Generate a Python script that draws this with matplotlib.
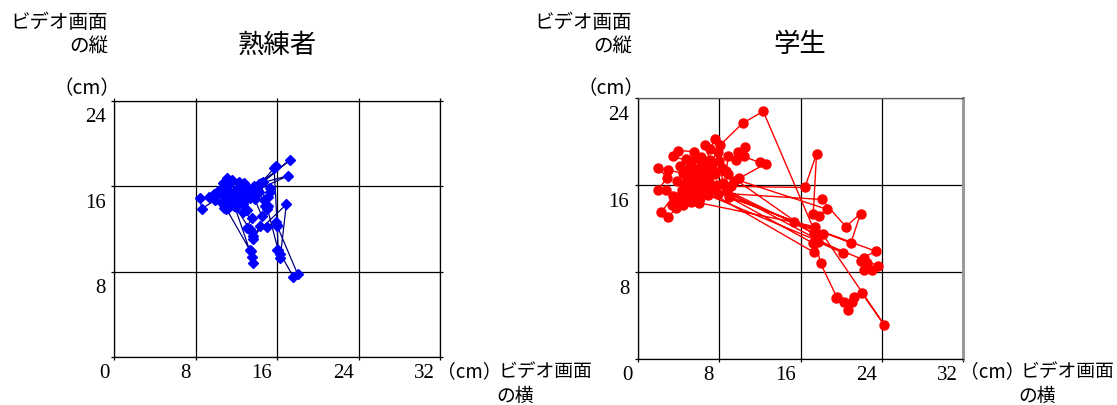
import matplotlib
matplotlib.use("Agg")
import matplotlib.pyplot as plt
from matplotlib.transforms import ScaledTranslation

# Gaze path of the expert (screen position in cm)
expert_x = [10.9, 10.2, 9.3, 8.4, 8.6, 9.9, 10.5, 11.0, 10.7, 11.2, 11.4, 11.9, 12.3, 12.7,
            12.4, 11.8, 11.3, 10.8, 10.9, 11.5, 12.0, 12.6, 13.0, 12.6, 13.5, 13.0, 13.5, 13.6,
            14.3, 15.0, 15.9, 16.0, 18.0, 17.6, 16.3, 16.0, 16.3, 16.9, 13.6, 13.3, 11.8, 13.3,
            13.5, 13.6, 13.4, 11.0, 11.8, 12.5, 13.2, 13.7, 14.2, 17.3, 14.0, 15.9, 15.7, 16.0,
            16.1, 14.4, 17.1, 13.9, 14.7, 15.3, 15.1, 15.3, 14.8, 15.1, 15.0, 14.5, 13.8, 13.3,
            12.9, 12.2, 11.6, 11.1, 10.4, 9.8, 10.6, 11.2, 12.0, 12.8, 13.3, 12.9, 13.6, 14.1,
            14.6, 14.2]
expert_y = [15.2, 15.6, 15.0, 14.9, 13.9, 14.7, 15.3, 15.9, 16.3, 15.7, 16.3, 15.6, 16.4, 16.3,
            15.4, 15.0, 14.4, 14.0, 14.6, 15.1, 14.8, 14.3, 13.8, 13.6, 13.0, 12.1, 11.7, 11.1,
            12.3, 12.2, 12.7, 12.3, 7.8, 7.5, 9.7, 10.0, 9.3, 14.3, 11.3, 12.0, 14.2, 10.0,
            9.4, 8.8, 9.9, 13.9, 14.6, 15.3, 15.7, 16.0, 16.2, 18.5, 15.9, 17.9, 17.7, 12.4,
            10.0, 16.3, 17.0, 15.6, 14.7, 15.5, 15.0, 15.8, 14.2, 14.2, 13.9, 13.2, 14.8, 15.3,
            16.0, 15.8, 16.6, 16.8, 15.7, 15.3, 14.4, 14.0, 14.1, 14.7, 14.9, 15.2, 15.5, 16.0,
            16.4, 15.5]

# Gaze path of the student (screen position in cm)
student_x = [5.5, 4.5, 3.0, 2.0, 2.9, 2.0, 2.8, 3.5, 2.3, 3.0, 3.8, 4.5, 4.2, 5.1, 6.0,
             15.35, 17.4, 17.2, 6.45, 5.8, 5.1, 3.5, 4.0, 5.5, 6.1, 7.1, 6.6, 7.1, 7.6, 7.9,
             7.6, 8.25, 8.7, 8.9, 9.7, 9.9, 10.5, 10.4, 12.0, 12.6, 10.0, 9.2, 16.43, 17.58,
             17.25, 17.84, 18.6, 6.5, 5.6, 4.8, 5.3, 6.2, 6.9, 6.0, 18.07, 20.46, 21.9, 20.95,
             5.2, 4.4, 3.9, 4.9, 5.7, 6.6, 7.3, 8.0, 8.4, 9.0, 23.4, 22.2, 21.9, 22.55, 22.2,
             22.98, 23.6, 6.9, 6.1, 5.4, 4.9, 5.6, 6.3, 7.0, 20.13, 17.7, 17.3, 5.9, 5.0, 4.2,
             4.7, 5.9, 6.8, 7.8, 17.3, 17.97, 19.54, 19.5, 20.26, 20.7, 21.1, 21.3, 22.0, 24.2,
             18.17, 7.4, 6.7, 5.8, 4.8, 3.4, 4.0, 4.6, 5.4, 6.2, 7.2, 8.1, 10.3, 12.34, 17.6,
             8.9, 9.5, 8.8, 7.9, 6.6, 5.9, 5.2]
student_y = [17.2, 17.1, 17.4, 17.6, 16.7, 15.6, 15.6, 15.0, 13.5, 13.1, 13.9, 14.2, 15.0, 15.6,
             14.4, 12.6, 12.2, 10.7, 16.2, 16.8, 18.2, 18.65, 19.2, 19.1, 17.7, 18.3, 19.7, 19.3,
             20.3, 19.1, 17.0, 17.6, 17.3, 18.7, 18.3, 19.1, 19.5, 18.65, 18.1, 18.0, 16.65, 15.9,
             15.8, 18.9, 13.4, 13.2, 13.8, 17.5, 16.1, 16.6, 17.6, 18.6, 17.0, 15.4, 14.7, 12.2,
             13.4, 10.7, 16.3, 15.6, 16.4, 17.5, 18.5, 18.1, 17.5, 18.2, 16.2, 14.9, 9.94, 9.36,
             9.0, 8.83, 8.2, 8.2, 8.6, 15.1, 14.8, 14.6, 15.2, 15.8, 16.5, 16.3, 9.8, 10.8, 9.85,
             16.0, 16.9, 17.8, 18.4, 17.3, 16.7, 16.0, 11.6, 8.83, 5.77, 5.6, 5.25, 4.5, 5.3,
             5.77, 6.13, 3.2, 11.5, 15.8, 15.5, 14.9, 14.6, 14.2, 14.8, 16.1, 16.6, 17.1, 17.9,
             19.7, 21.7, 22.8, 11.3, 17.0, 16.4, 15.6, 15.2, 15.9, 15.0, 14.5]

x_ticks = [0, 8, 16, 24, 32]
x_tick_labels = ["0", "8", "16", "24", "32"]
y_ticks = [0, 8, 16, 24]
y_tick_labels = ["", "8", "16", "24"]

titles = ["熟練者", "学生"]
y_name = ["ビデオ画面", "の縦"]
x_name = ["ビデオ画面", "の横"]
unit = "（cm）"

W, H = 1117, 405
fig = plt.figure(figsize=(W / 100, H / 100), dpi=100)

JP = ["Noto Sans CJK JP", "DejaVu Sans"]
NUM = ["Liberation Serif", "DejaVu Serif"]


def fx(px):
    return px / W


def fy(py):
    return 1 - py / H


ax1 = fig.add_axes([fx(114.3), fy(357), 325.7 / W, 256 / H])
ax2 = fig.add_axes([fx(637.7), fy(359.3), 325.6 / W, 261 / H])


def style(ax, outer_ticks):
    ax.set_xlim(0, 32)
    ax.set_ylim(0, 24)
    ax.set_xticks(x_ticks)
    ax.set_yticks(y_ticks)
    ax.set_xticklabels(x_tick_labels, fontfamily=NUM, fontsize=15)
    ax.set_yticklabels(y_tick_labels, fontfamily=NUM, fontsize=15)
    ax.grid(True, color="black", lw=0.9)
    ax.set_axisbelow(True)
    for s in ax.spines.values():
        s.set_color("black")
        s.set_linewidth(0.9)
    ax.tick_params(direction="out", length=2, width=0.9, color="black",
                   top=outer_ticks, right=outer_ticks, pad=3)
    ax.tick_params(axis="y", pad=4)
    # labels sit just left/below each grid crossing
    dx = ScaledTranslation(-0.05, 0, fig.dpi_scale_trans)
    for lab in ax.get_xticklabels():
        lab.set_horizontalalignment("right")
        lab.set_transform(lab.get_transform() + dx)
    dy = ScaledTranslation(0, -0.145, fig.dpi_scale_trans)
    for lab in ax.get_yticklabels():
        lab.set_transform(lab.get_transform() + dy)


style(ax1, True)
style(ax2, False)
ax2.spines["right"].set_color("#9a9a9a")
ax2.spines["right"].set_linewidth(2.2)
ax2.spines["top"].set_color("#555555")

ax1.plot(expert_x, expert_y, color="#000080", lw=0.9, zorder=3)
ax1.plot(expert_x, expert_y, ls="none", marker="D", ms=5.5, color="#0000ff",
         mec="#0000ff", zorder=4)

ax2.plot(student_x, student_y, color="#ff0000", lw=1.0, marker="o", ms=6.5,
         mfc="#ff0000", mec="#ff0000", zorder=3)

# Axis names, units and titles
for right, unit_right, title_x, title in [(108, 120, 277, titles[0]),
                                          (632, 644, 800, titles[1])]:
    fig.text(fx(right), fy(22), y_name[0], fontfamily=JP, fontsize=14,
             ha="right", va="center")
    fig.text(fx(right), fy(46), y_name[1], fontfamily=JP, fontsize=14,
             ha="right", va="center")
    fig.text(fx(unit_right), fy(89), unit, fontfamily=JP, fontsize=14,
             ha="right", va="center")
    fig.text(fx(title_x), fy(45), title, fontfamily=JP, fontsize=19,
             ha="center", va="center")

for unit_x, name_x in [(437, 499), (960, 1021)]:
    fig.text(fx(unit_x), fy(372), unit, fontfamily=JP, fontsize=13.5,
             ha="left", va="center")
    fig.text(fx(name_x), fy(372), x_name[0], fontfamily=JP, fontsize=13.5,
             ha="left", va="center")
    fig.text(fx(name_x - 3), fy(396), x_name[1], fontfamily=JP, fontsize=13.5,
             ha="left", va="center")

fig.savefig("out.png", dpi=100)
